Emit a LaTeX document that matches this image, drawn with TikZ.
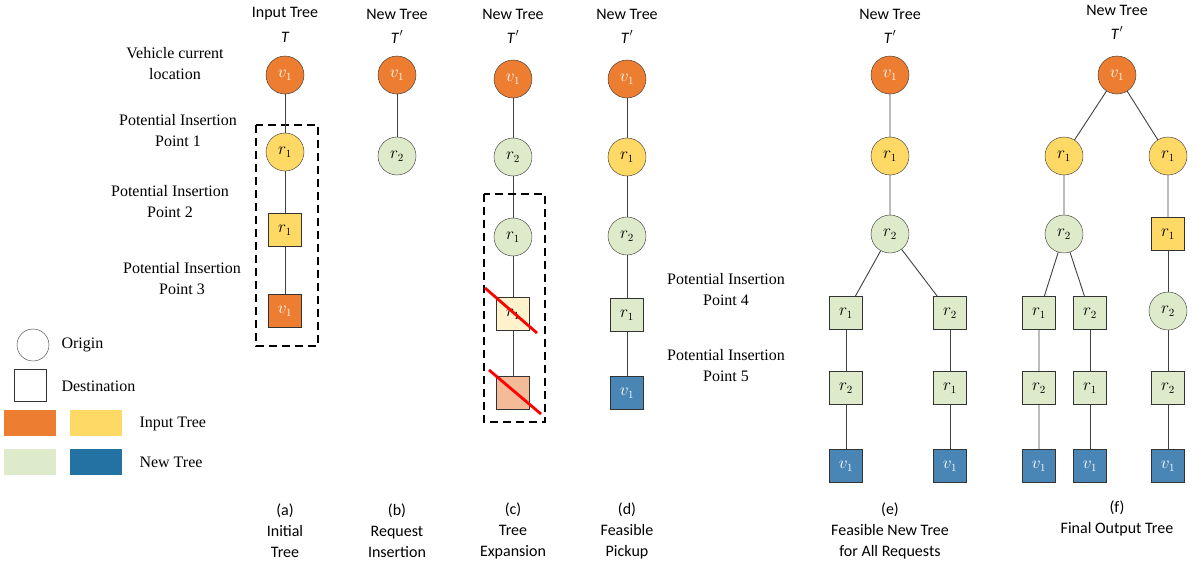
\documentclass[tikz,border=0pt]{standalone}
\usepackage[no-math]{fontspec}
\setmainfont{Liberation Serif}
\newfontfamily\hdr{Carlito}
\usetikzlibrary{calc}

\definecolor{inorange}{HTML}{ED7D31}
\definecolor{inyellow}{HTML}{FFD966}
\definecolor{newgreen}{HTML}{DDEBCA}
\definecolor{newblue}{HTML}{4A86B5}
\definecolor{legblue}{HTML}{2471A3}
\definecolor{fadeyellow}{HTML}{FFF2CC}
\definecolor{fadeorange}{HTML}{F4BB98}

\newcommand\bigsz{\fontsize{16}{21}\selectfont}

\tikzset{
  orig/.style={circle, draw=black!80, minimum size=38pt, inner sep=0pt},
  dest/.style={rectangle, draw=black!80, minimum size=33pt, inner sep=0pt},
  edge/.style={draw=black!75, line width=0.9pt},
  hdrtxt/.style={font=\hdr\bigsz, align=center},
  lbl/.style={align=center, font=\rmfamily\bigsz},
  pbox/.style={line width=1.3pt, dash pattern=on 8pt off 5pt},
  cross/.style={red, line width=2.8pt}
}

\begin{document}
\begin{tikzpicture}[x=1pt, y=-1pt, font=\bigsz]
\useasboundingbox (0,0) rectangle (1195,570);

% headers
\node[hdrtxt] (ha) at (285,14) {Input Tree};
\node[hdrtxt] (ta) at (285,37) {\itshape T};
\node[hdrtxt] (hb) at (397,14) {New Tree};
\node[hdrtxt] (tb) at (397,37) {\itshape T\kern1pt$'$};
\node[hdrtxt] (hc) at (513,14) {New Tree};
\node[hdrtxt] (tc) at (513,37) {\itshape T\kern1pt$'$};
\node[hdrtxt] (hd) at (627,14) {New Tree};
\node[hdrtxt] (td) at (627,37) {\itshape T\kern1pt$'$};
\node[hdrtxt] (he) at (890,14) {New Tree};
\node[hdrtxt] (te) at (890,37) {\itshape T\kern1pt$'$};
\node[hdrtxt] (hf) at (1117,10) {New Tree};
\node[hdrtxt] (tf) at (1117,33) {\itshape T\kern1pt$'$};

% side labels
\node[lbl] (vcl) at (175,64) {Vehicle current\\location};
\node[lbl] (pip1) at (178,131) {Potential Insertion\\Point 1};
\node[lbl] (pip2) at (170,202) {Potential Insertion\\Point 2};
\node[lbl] (pip3) at (182,279) {Potential Insertion\\Point 3};
\node[lbl] (pip4) at (726,290) {Potential Insertion\\Point 4};
\node[lbl] (pip5) at (726,366) {Potential Insertion\\Point 5};

% (a) initial tree
\draw[pbox] (256,125) rectangle (318,346);
\node[orig, fill=inorange, text=white] (a1) at (285,75) {$v_1$};
\node[orig, fill=inyellow] (a2) at (285,152) {$r_1$};
\node[dest, fill=inyellow] (a3) at (285,230) {$r_1$};
\node[dest, fill=inorange, text=white] (a4) at (285,311) {$v_1$};
\draw[edge] (a1) -- (a2) (a2) -- (a3) (a3) -- (a4);

% (b) request insertion
\node[orig, fill=inorange, text=white] (b1) at (397,75) {$v_1$};
\node[orig, fill=newgreen] (b2) at (397,156) {$r_2$};
\draw[edge] (b1) -- (b2);

% (c) tree expansion
\node[orig, fill=inorange, text=white] (c1) at (513,79) {$v_1$};
\node[orig, fill=newgreen] (c2) at (513,157) {$r_2$};
\node[orig, fill=newgreen] (c3) at (513,237) {$r_1$};
\node[dest, fill=fadeyellow] (c4) at (513,314) {$r_1$};
\node[dest, fill=fadeorange] (c5) at (513,393) {};
\draw[edge] (c1) -- (c2) (c2) -- (c3) (c3) -- (c4) (c4) -- (c5);
\draw[pbox] (484,194) rectangle (545,422);
\draw[cross] (485,288) -- (537,333);
\draw[cross] (489,370) -- (541,414);

% (d) feasible pickup
\node[orig, fill=inorange, text=white] (d1) at (627,79) {$v_1$};
\node[orig, fill=inyellow] (d2) at (627,157) {$r_1$};
\node[orig, fill=newgreen] (d3) at (627,236) {$r_2$};
\node[dest, fill=newgreen] (d4) at (627,315) {$r_1$};
\node[dest, fill=newblue, text=white] (d5) at (627,393) {$v_1$};
\draw[edge] (d1) -- (d2) (d2) -- (d3) (d3) -- (d4) (d4) -- (d5);

% (e) feasible new tree for all requests
\node[orig, fill=inorange, text=white] (e1) at (890,75) {$v_1$};
\node[orig, fill=inyellow] (e2) at (890,156) {$r_1$};
\node[orig, fill=newgreen] (e3) at (890,234) {$r_2$};
\node[dest, fill=newgreen] (e4) at (846,313) {$r_1$};
\node[dest, fill=newgreen] (e5) at (846,388) {$r_2$};
\node[dest, fill=newblue, text=white] (e6) at (846,466) {$v_1$};
\node[dest, fill=newgreen] (e7) at (950,313) {$r_2$};
\node[dest, fill=newgreen] (e8) at (950,388) {$r_1$};
\node[dest, fill=newblue, text=white] (e9) at (950,466) {$v_1$};
\draw[edge] (e1) -- (e2) (e2) -- (e3) (e3) -- (e4) (e3) -- (e7);
\draw[edge] (e4) -- (e5) (e5) -- (e6) (e7) -- (e8) (e8) -- (e9);

% (f) final output tree
\node[orig, fill=inorange, text=white] (f1) at (1117,75) {$v_1$};
\node[orig, fill=inyellow] (f2) at (1064,156) {$r_1$};
\node[orig, fill=inyellow] (f3) at (1168,156) {$r_1$};
\node[orig, fill=newgreen] (f4) at (1064,234) {$r_2$};
\node[dest, fill=inyellow] (f5) at (1168,234) {$r_1$};
\node[dest, fill=newgreen] (f6) at (1039,313) {$r_1$};
\node[dest, fill=newgreen] (f7) at (1039,388) {$r_2$};
\node[dest, fill=newblue, text=white] (f8) at (1039,466) {$v_1$};
\node[dest, fill=newgreen] (f9) at (1090,313) {$r_2$};
\node[dest, fill=newgreen] (f10) at (1090,388) {$r_1$};
\node[dest, fill=newblue, text=white] (f11) at (1090,466) {$v_1$};
\node[orig, fill=newgreen] (f12) at (1168,311) {$r_2$};
\node[dest, fill=newgreen] (f13) at (1168,388) {$r_2$};
\node[dest, fill=newblue, text=white] (f14) at (1168,466) {$v_1$};
\draw[edge] (f1) -- (f2) (f1) -- (f3) (f2) -- (f4) (f3) -- (f5);
\draw[edge] (f4) -- (f6) (f4) -- (f9) (f6) -- (f7) (f7) -- (f8);
\draw[edge] (f9) -- (f10) (f10) -- (f11);
\draw[edge] (f5) -- (f12) (f12) -- (f13) (f13) -- (f14);

% legend
\node[circle, draw=black!80, minimum size=32pt, inner sep=0pt] (lo) at (33,345) {};
\node[anchor=west] (lot) at (58,345) {Origin};
\node[rectangle, draw=black!80, minimum size=32pt, inner sep=0pt] (ld) at (30,385) {};
\node[anchor=west] (ldt) at (58,386) {Destination};
\fill[inorange] (4,410) rectangle (56,436);
\fill[inyellow] (70,410) rectangle (122,436);
\node[anchor=west] (lit) at (136,424) {Input Tree};
\fill[newgreen] (4,449) rectangle (56,475);
\fill[legblue] (70,449) rectangle (122,475);
\node[anchor=west] (lnt) at (136,462) {New Tree};

% captions
\node[hdrtxt] (ca) at (285,531) {(a)\\Initial\\Tree};
\node[hdrtxt] (cb) at (397,531) {(b)\\Request\\Insertion};
\node[hdrtxt] (cc) at (513,531) {(c)\\Tree\\Expansion};
\node[hdrtxt] (cd) at (627,531) {(d)\\Feasible\\Pickup};
\node[hdrtxt] (ce) at (890,531) {(e)\\Feasible New Tree\\for All Requests};
\node[hdrtxt, anchor=north] (cf) at (1117,497) {(f)\\Final Output Tree};

\end{tikzpicture}
\end{document}
